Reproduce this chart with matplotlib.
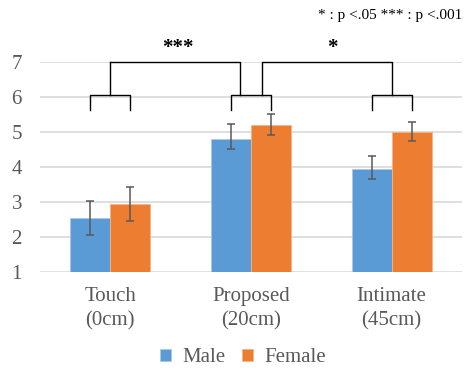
import matplotlib
matplotlib.use("Agg")
import matplotlib.pyplot as plt
import numpy as np

serif = ['Liberation Serif', 'DejaVu Serif']
plt.rcParams['font.family'] = serif

categories = ["Touch\n(0cm)", "Proposed\n(20cm)", "Intimate\n(45cm)"]
male = [2.53, 4.79, 3.93]
female = [2.93, 5.19, 4.99]
male_err_low = [0.49, 0.29, 0.28]
male_err_high = [0.50, 0.42, 0.38]
female_err_low = [0.48, 0.28, 0.27]
female_err_high = [0.48, 0.31, 0.28]

blue = '#5B9BD5'
orange = '#ED7D31'
grid_c = '#D9D9D9'
text_c = '#595959'

fig = plt.figure(figsize=(4.66, 3.68), dpi=100)
ax = fig.add_axes([40 / 466, 1 - 271.7 / 368, 422 / 466, 210 / 368])

x = np.arange(len(categories))
w = 0.284

ax.bar(x - w / 2, male, w, color=blue, edgecolor='#A9C8EA',
       linewidth=0.6, label='Male', zorder=2)
ax.bar(x + w / 2, female, w, color=orange, edgecolor='#F5B48A',
       linewidth=0.6, label='Female', zorder=2)
ax.errorbar(x - w / 2, male, yerr=[male_err_low, male_err_high], fmt='none',
            ecolor='#595959', elinewidth=1.1, capsize=3, capthick=1.1, zorder=3)
ax.errorbar(x + w / 2, female, yerr=[female_err_low, female_err_high], fmt='none',
            ecolor='#595959', elinewidth=1.1, capsize=3, capthick=1.1, zorder=3)

ax.set_xlim(-0.5, 2.5)
ax.set_ylim(1, 7)
ax.set_yticks(range(1, 8))
ax.yaxis.grid(True, color=grid_c, linewidth=1.2, zorder=0)
ax.set_axisbelow(True)
for s in ax.spines.values():
    s.set_visible(False)
ax.tick_params(axis='both', length=0, labelsize=15, colors=text_c)
ax.tick_params(axis='y', pad=13)
ax.tick_params(axis='x', pad=11)
ax.set_xticks(x)
ax.set_xticklabels(categories, linespacing=1.4, family=serif)
for lbl in ax.get_yticklabels():
    lbl.set_family(serif)

# significance brackets
lk = dict(color='black', linewidth=1.0, clip_on=False, zorder=4)
for xc in x:
    ax.plot([xc - w / 2, xc - w / 2, xc + w / 2, xc + w / 2],
            [5.62, 6.05, 6.05, 5.62], **lk)
ax.plot([0, 0], [6.05, 7.0], **lk)
ax.plot([0, 0.92, 0.92], [7.0, 7.0, 6.05], **lk)
ax.plot([1.08, 1.08, 2, 2], [6.05, 7.0, 7.0, 6.05], **lk)
ax.text(0.48, 7.40, '***', ha='center', va='center', fontsize=15,
        fontweight='bold', family=serif, clip_on=False)
ax.text(1.58, 7.40, '*', ha='center', va='center', fontsize=15,
        fontweight='bold', family=serif, clip_on=False)

fig.text(462 / 466, 1 - 16 / 368, '* : p <.05 *** : p <.001', ha='right',
         va='center', fontsize=11, family=serif)

fig.legend(loc='center', bbox_to_anchor=(243 / 466, 1 - 358 / 368), ncol=2,
           frameon=False, prop={'family': serif, 'size': 15},
           handlelength=0.52, handleheight=0.52,
           handletextpad=0.55, columnspacing=0.8, labelcolor=text_c)

fig.savefig('out.png', dpi=100)
